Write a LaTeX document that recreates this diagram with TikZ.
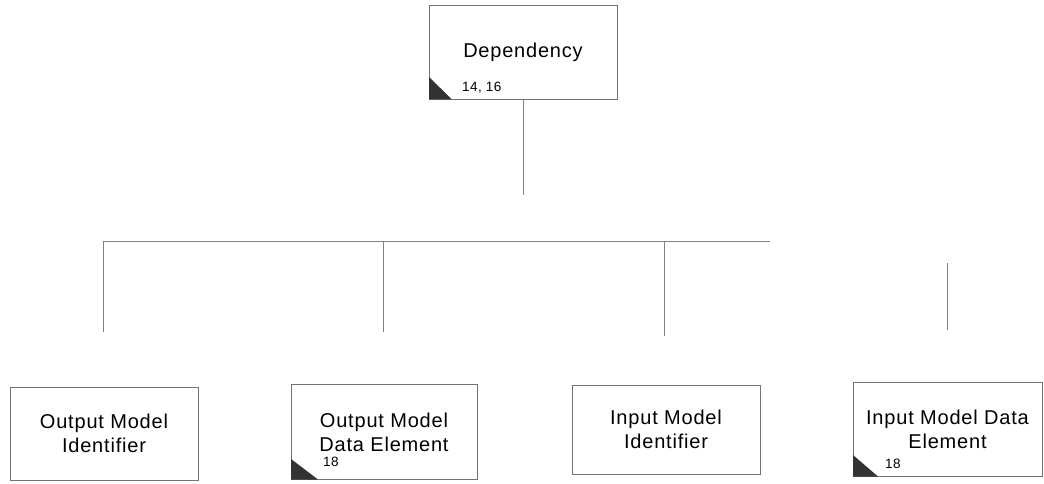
\documentclass[tikz,border=0pt]{standalone}
\usepackage{fontspec}
\setmainfont{Liberation Sans}
\newfontfamily\labelfont[LetterSpace=4]{Liberation Sans}
\newfontfamily\reffont[LetterSpace=3]{Liberation Sans}
\begin{document}
\begin{tikzpicture}[x=1pt,y=-1pt,
  entity/.style={draw=black!55, line width=0.7pt, inner sep=0pt, align=center,
    font=\labelfont\fontsize{20}{24}\selectfont},
  link/.style={draw=black!50, line width=0.8pt},
  ref/.style={font=\reffont\fontsize{13.5}{15}\selectfont, inner sep=0pt, anchor=west},
  marker/.style={fill=black!80, draw=none}]
  \useasboundingbox (0,0) rectangle (1044,484);

  % top entity
  \node[entity, minimum width=188pt, minimum height=94pt] (dep) at (523,52) {Dependency};
  \fill[marker] (429,77) -- (429,99.5) -- (452,99.5) -- cycle;
  \node[ref] (depref) at (462,88) {14, 16};

  % child entities
  \node[entity, minimum width=188pt, minimum height=93pt] (omi) at (104,433.5) {Output Model\\Identifier};
  \node[entity, minimum width=186pt, minimum height=95pt] (omde) at (384,432) {Output Model\\Data Element};
  \node[entity, minimum width=188pt, minimum height=89pt] (imi) at (666,429.5) {Input Model\\Identifier};
  \node[entity, minimum width=189pt, minimum height=94pt] (imde) at (947.5,429) {Input Model Data\\Element};

  \fill[marker] (291,459) -- (291,479.5) -- (318,479.5) -- cycle;
  \node[ref] (omderef) at (323,462) {18};
  \fill[marker] (853,455) -- (853,476.5) -- (878,476.5) -- cycle;
  \node[ref] (imderef) at (885,464) {18};

  % connector tree
  \coordinate (stem) at (523,195);
  \coordinate (busL) at (103,241);
  \coordinate (busR) at (770,241);
  \coordinate (d1a) at (103,241);  \coordinate (d1b) at (103,332);
  \coordinate (d2a) at (383,241);  \coordinate (d2b) at (383,332);
  \coordinate (d3a) at (664,241);  \coordinate (d3b) at (664,336);
  \coordinate (d4a) at (947,263);  \coordinate (d4b) at (947,330);

  \draw[link] (dep.south) -- (stem);
  \draw[link] (busL) -- (busR);
  \draw[link] (d1a) -- (d1b);
  \draw[link] (d2a) -- (d2b);
  \draw[link] (d3a) -- (d3b);
  \draw[link] (d4a) -- (d4b);
\end{tikzpicture}
\end{document}
